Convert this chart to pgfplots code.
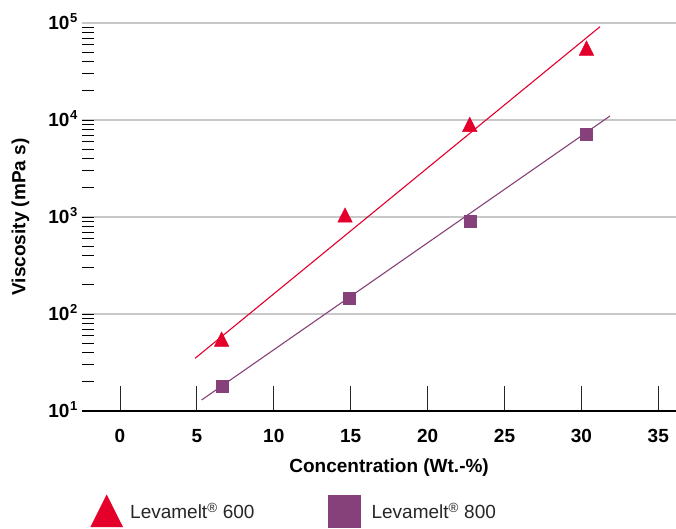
\documentclass[border=0pt]{standalone}
\usepackage{fontspec}
\setmainfont{Liberation Sans}
\usepackage{pgfplots}
\pgfplotsset{compat=1.18}
\definecolor{lred}{HTML}{E4002B}
\definecolor{lpurple}{HTML}{86417A}
\definecolor{gridgray}{HTML}{C8C8C8}
\newcommand{\tkl}{\bfseries\fontsize{19}{22}\selectfont}
\newcommand{\expo}[1]{\hspace{0.5pt}\raisebox{7.5pt}{\fontsize{13}{13}\selectfont #1}}
\pgfplotsset{
  single mark legend/.style={legend image code/.code={\path[draw=none,fill=none] (-16.5pt,0pt) -- (16.5pt,0pt);\draw[##1] plot coordinates {(0pt,0pt)};}},
}
\begin{document}
\begin{tikzpicture}
\begin{axis}[
 scale only axis, width=594pt, height=388pt,
 xmin=-2.47, xmax=36.15, ymode=log, ymin=10, ymax=100000,
 clip=false,
 axis x line=bottom, axis y line=left,
 x axis line style={-, black, line width=1.1pt},
 y axis line style={draw=none},
 tick align=inside,
 major tick length=25pt, minor tick length=12pt,
 xtick={0,5,...,35},
 xticklabels={0,5,10,15,20,25,30,35},
 major x tick style={draw=black!85, line width=0.9pt},
 major y tick style={draw=none},
 minor y tick style={draw=black, line width=0.8pt},
 ytick={10,100,1000,10000,100000},
 yticklabels={10\expo{1},10\expo{2},10\expo{3},10\expo{4},10\expo{5}},
 ymajorgrids, major y grid style={gridgray, line width=1.2pt},
 ticklabel style={font=\tkl},
 xticklabel style={anchor=north, inner sep=0pt, yshift=-18.5pt},
 yticklabel style={anchor=base east, inner sep=0pt, xshift=-4.5pt, yshift=-6.6pt},
 xlabel={Concentration (Wt.-\%)},
 xlabel style={font=\tkl, at={(axis description cs:0.517,0)}, anchor=center, yshift=-57pt},
 ylabel={Viscosity (mPa s)},
 ylabel style={font=\tkl, at={(axis description cs:-0.1035,0.5)}, anchor=center},
 legend style={at={(0,0)}, anchor=north west, xshift=8.2pt, yshift=-84pt,
   draw=none, fill=none, inner sep=0pt, outer sep=0pt,
   font=\fontsize{19}{22}\selectfont, text=black!85,
   nodes={inner sep=0pt},
   /tikz/every even column/.append style={column sep=73pt},
   /tikz/every odd column/.append style={column sep=7pt}},
 legend columns=2,
 legend cell align=left,
]
\coordinate (SW) at (rel axis cs:0,0);
\coordinate (NE) at (rel axis cs:1,1);
% fit lines
\addplot[lred, line width=1.1pt, forget plot] coordinates {(4.88,34.9) (31.21,91600)};
\addplot[lpurple, line width=1.1pt, forget plot] coordinates {(5.31,13.0) (31.86,11000)};
% data
\addplot[lred, only marks, mark=triangle*, mark size=8.4pt,
  mark options={draw=none, fill=lred, yscale=1.15},
  single mark legend,
  legend image post style={mark size=18.5pt, yshift=-4.5pt}]
  coordinates {(6.61,52) (14.63,990) (22.74,8500) (30.33,52000)};
\addlegendentry{Levamelt\textsuperscript{\textregistered} 600}
\addplot[lpurple, only marks, mark=square*, mark size=6pt,
  mark options={draw=none, fill=lpurple},
  single mark legend,
  legend image post style={mark size=16.3pt, yshift=0.5pt, xshift=-3.8pt}]
  coordinates {(6.63,18.1) (14.91,146) (22.76,906) (30.3,7180)};
\addlegendentry{\hspace{4pt}Levamelt\textsuperscript{\textregistered} 800}
\end{axis}
\pgfresetboundingbox
\useasboundingbox ([xshift=-82pt,yshift=-118pt]SW) rectangle ([yshift=23pt]NE);
\end{tikzpicture}
\end{document}
